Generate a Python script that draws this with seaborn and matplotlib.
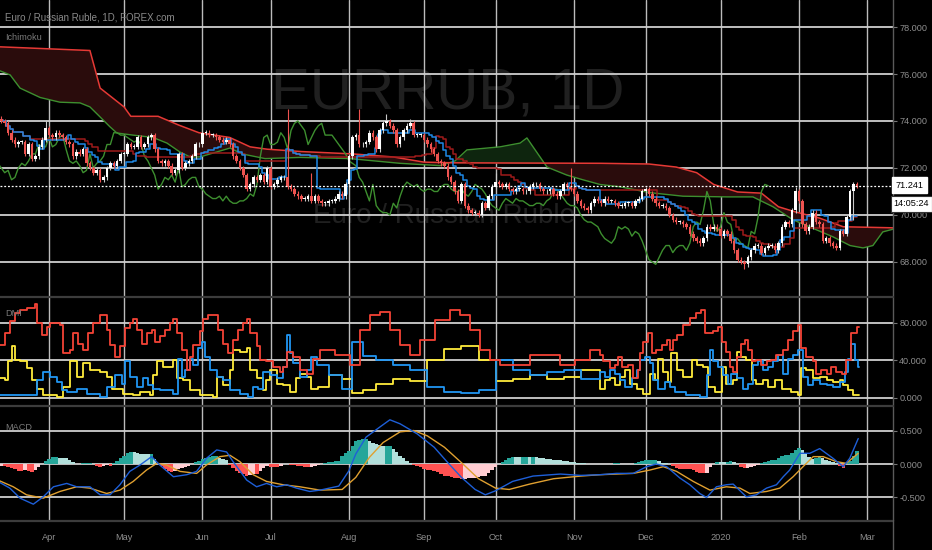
import numpy as np
import pandas as pd
import matplotlib
matplotlib.use("Agg")
import matplotlib.pyplot as plt
from matplotlib.lines import Line2D
import seaborn as sns

# ---------------- data ----------------
start_date = "2019-03-12"
close = [
    74.0, 73.9, 73.5, 73.2, 73.0, 73.1, 73.1, 72.6, 73.0, 72.4,
    72.5, 72.9, 73.2, 73.7, 73.4, 73.3, 73.5, 73.4, 73.3, 73.1,
    73.0, 72.5, 72.7, 72.6, 72.8, 72.2, 72.0, 71.8, 71.9, 71.5,
    71.6, 72.0, 72.2, 72.1, 72.3, 72.6, 72.6, 73.0, 72.9, 72.9,
    73.3, 72.9, 73.0, 73.3, 73.4, 72.8, 72.3, 72.2, 72.3, 72.1,
    71.8, 71.9, 72.6, 72.0, 72.2, 72.3, 72.5, 73.0, 73.0, 73.5,
    73.5, 73.4, 73.4, 73.3, 73.2, 73.1, 73.2, 73.0, 72.5, 72.3,
    72.0, 71.7, 71.1, 71.3, 71.6, 71.5, 71.7, 71.4, 72.0, 71.2,
    71.3, 71.5, 71.6, 71.6, 71.2, 71.1, 70.9, 70.8, 70.7, 70.7,
    70.8, 70.6, 70.8, 70.6, 70.5, 70.5, 70.6, 70.6, 70.7, 70.9,
    70.8, 71.3, 72.5, 73.3, 73.4, 73.0, 73.0, 73.1, 73.5, 73.3,
    72.8, 73.6, 73.9, 74.0, 73.8, 73.6, 73.0, 73.3, 73.6, 73.8,
    73.9, 73.4, 73.4, 73.4, 73.2, 73.0, 72.8, 72.6, 72.3, 72.2,
    72.1, 71.6, 71.4, 71.0, 70.6, 71.3, 70.4, 70.2, 70.1, 70.1,
    70.0, 70.5, 70.3, 70.8, 71.2, 71.4, 71.3, 71.2, 71.3, 71.1,
    71.0, 71.1, 71.1, 71.0, 71.0, 71.2, 71.3, 71.3, 71.1, 71.0,
    71.0, 71.1, 70.9, 70.8, 71.0, 71.3, 71.2, 71.1, 70.9, 70.6,
    70.4, 70.3, 70.2, 70.5, 70.7, 70.6, 70.5, 70.7, 70.6, 70.6,
    70.5, 70.4, 70.4, 70.5, 70.5, 70.4, 70.6, 70.7, 71.0, 71.1,
    70.9, 70.7, 70.5, 70.4, 70.4, 70.3, 70.0, 69.8, 69.7, 69.7,
    69.6, 69.5, 69.2, 69.0, 68.9, 68.8, 69.0, 69.5, 69.4, 69.5,
    69.4, 69.1, 69.3, 69.2, 68.9, 68.5, 68.1, 68.0, 67.9, 68.2,
    68.5, 68.7, 68.7, 68.4, 68.6, 68.7, 68.7, 68.5, 68.8, 69.5,
    69.7, 69.6, 70.2, 71.0, 70.6, 69.6, 69.3, 69.5, 70.1, 69.7,
    69.6, 68.9, 69.0, 68.8, 68.7, 68.6, 69.3, 69.2, 69.9, 71.0,
    71.3, 71.241,
]
first_open = 74.1
wick = 0.1
high_spikes = {13: 74.05, 84: 74.5, 91: 71.8, 105: 74.5, 113: 74.3, 120: 74.1,
               145: 71.8, 167: 72.0, 233: 71.2}
low_spikes = {218: 67.7, 250: 69.8}
last_price = 71.241

# Ichimoku leading spans (bar index, value)
spanA_x = [-1, 2.6, 5.5, 11.4, 17.2, 23.1, 26, 29, 31.9, 33.9, 38.6, 44.5, 48.6, 52.4, 55.4, 58.3,
           67.1, 70.6, 77.4, 87.6, 102.3, 116.9, 128.7, 133.1, 136.6, 146.3, 152.2, 154.2, 156,
           160.1, 165.9, 170.6, 175.6, 181.5, 190.3, 200, 212.9, 220.5, 226.4, 232.2, 239.3, 244,
           249, 252.8, 255.7, 258.6, 263]
spanA_v = [76.17, 75.96, 75.4, 75.0, 74.8, 74.77, 74.6, 74.17, 73.75, 73.49, 73.4, 73.3, 73.06,
           72.68, 72.47, 72.47, 72.85, 72.6, 72.4, 72.45, 72.4, 72.2, 72.1, 72.3, 72.77, 72.9,
           73.06, 73.28, 72.9, 72.04, 71.7, 71.5, 71.3, 71.2, 70.95, 70.8, 70.77, 70.77, 70.35,
           69.8, 69.36, 69.07, 68.7, 68.6, 68.7, 69.28, 69.45]
spanB_x = [-1, 26, 29, 36, 38, 46, 52, 58, 67, 73, 78, 88, 103, 115, 124, 133, 176, 190, 198,
           204, 209, 216, 223, 228, 233, 240, 247, 263]
spanB_v = [77.16, 77.0, 75.4, 74.6, 74.2, 74.2, 73.83, 73.5, 73.3, 72.9, 72.8, 72.7, 72.6, 72.47,
           72.25, 72.22, 72.2, 72.17, 72.04, 71.8, 71.3, 70.98, 70.93, 70.35, 70.13, 69.87, 69.5,
           69.45]

# DMI (bar index where level starts, value)
adx_x = [-1, 1.1, 2.5, 4.0, 5.5, 7.4, 9.9, 10.4, 11.8, 13.3, 14.3, 17.2, 18.2, 20.1, 21.1, 22.6,
         24.1, 25.5, 27.0, 29.0, 30.9, 31.9, 33.3, 34.8, 36.3, 37.7, 38.7, 39.7, 41.2, 42.6, 44.1,
         45.1, 46.5, 48.0, 49.5, 50.5, 51.4, 52.9, 54.4, 55.3, 56.3, 58.3, 59.2, 60.7, 63.2, 63.6,
         65.1, 66.6, 68.0, 69.5, 71.0, 72.0, 73.0, 74.9, 75.9, 77.8, 79.8, 81.7, 82.7, 83.7, 85.6,
         87.6, 89.6, 91.5, 93.5, 97.9, 102.3, 105.2, 108.2, 111.1, 114.0, 117.0, 119.9, 122.8,
         127.2, 131.6, 134.6, 137.5, 140.4, 143.4, 146.3, 150.7, 155.1, 159.5, 163.9, 168.3,
         172.7, 175.6, 176.6, 178.5, 180, 181, 182, 183.9, 185.4, 186.8, 187.3, 188.3, 189.8,
         190.8, 192.2, 193.7, 195.2, 196.1, 197.1, 198.1, 200.0, 202.0, 203.9, 205.4, 206.4,
         208.8, 210.3, 211.3, 212.7, 213.7, 214.7, 215.7, 217.1, 218.1, 219.1, 220.1, 221.5,
         223.0, 224.5, 225.9, 227.4, 229.4, 230.8, 232.3, 233.8, 234.7, 236.2, 238.2, 239.1,
         240.6, 242.1, 243.5, 245.0, 246.5, 247.9, 249.4, 250.9]
adx_v = [56.7, 69, 82, 91, 94, 96, 100, 80, 67, 76, 80, 78, 48, 51, 69, 58, 51, 69, 80, 89,
         73, 57, 44, 55, 75, 80, 84, 73, 58, 69, 73, 60, 66, 73, 80, 84, 69, 51, 30, 44,
         57, 71, 84, 89, 89, 73, 58, 48, 62, 73, 80, 84, 69, 55, 40.5, 39, 33, 28, 33, 49.5,
         44, 30, 26, 42, 51, 46, 35, 72, 88, 92, 72, 56, 46, 62, 83, 94, 88, 72, 51, 40, 35,
         35, 46, 46, 35, 40, 51, 46, 39, 31.6, 35, 44, 33, 35, 21, 30, 48, 60, 69, 48, 51, 57,
         62, 51, 62, 67, 78, 85, 91, 94, 69, 71, 76, 60, 49.5, 33, 28, 44, 58, 62, 51, 39, 40.5,
         35, 39, 40.5, 46, 51, 62, 71, 78, 53, 44, 39, 26, 30, 26, 33, 28, 26, 40.5, 69, 76]
pdi_x = [-1, 9.4, 10.4, 12.3, 14.3, 16.2, 17.7, 19.2, 22.1, 25.0, 29.0, 30.9, 33.3, 35.3, 36.3,
         37.7, 39.7, 41.7, 43.1, 44.6, 46.5, 50.5, 51.9, 52.9, 53.9, 55.3, 56.3, 57.8, 58.8, 59.7,
         61.2, 63.2, 65.1, 67.1, 70.0, 72.4, 73.9, 75.4, 76.8, 78.8, 80.8, 82.7, 83.7, 84.7, 85.6,
         87.6, 89.6, 91.0, 92.5, 96, 100, 103, 106, 110, 115, 120, 125, 130, 135, 140, 145, 150,
         155, 160, 165, 170, 175.6, 177.1, 178.5, 180, 181.5, 182.9, 184.9, 186.4, 187.3, 188.8,
         190.3, 191.2, 192.7, 194.7, 196.1, 197.6, 201.0, 204.9, 206.9, 207.9, 208.8, 210.3,
         211.8, 213.2, 214.2, 215.7, 217.6, 219.1, 220.6, 222, 223.5, 225, 226.4, 227.9, 229.4,
         230.8, 232.3, 233.8, 235.2, 236.7, 238.2, 240.1, 242.1, 244, 246, 247.4, 248.4, 249.4,
         250.4, 251.4]
pdi_v = [3, 3, 19, 28, 22.6, 17, 8, 6.5, 10, 4.7, 1, 12, 24, 15, 39, 22.6, 12, 21, 13.6, 10,
         8, 4.7, 42, 22.6, 30, 42, 35, 53, 60, 44, 30, 22.6, 19, 8, 4.7, 1, 12, 10, 28, 24,
         21, 33, 67, 48, 37, 22.6, 30, 44, 35, 25, 10, 60, 45, 40, 35, 30, 12, 6, 5, 8, 40, 30,
         25, 28, 30, 20, 28, 22.6, 30, 26, 19, 12, 21, 30, 40.5, 44, 37, 19, 10, 17, 12, 6.5,
         3, 1, 24, 51, 39, 33, 24, 15, 26, 21, 10, 15, 35, 39, 30, 33, 39, 46, 26, 42, 46, 51,
         22.6, 13.6, 19, 15, 13.6, 12, 17, 28, 42, 58, 40.5, 33]
mdi_x = [-1, 1.1, 2.1, 3.0, 4.0, 5.5, 7.4, 8.9, 10.4, 12.3, 16.2, 18.2, 20.1, 22.1, 24.1, 26.0,
         29.0, 30.9, 32.4, 35.8, 38.7, 40.7, 43.6, 44.6, 45.6, 47.5, 50.5, 51.4, 53.4, 55.3, 58.3,
         62.2, 63.2, 65.1, 67.1, 68.0, 70.0, 72.0, 73.0, 74.9, 76.8, 77.8, 78.8, 80.8, 82.7, 84.7,
         86.6, 87.6, 89.6, 91.0, 93.0, 96, 100, 103, 106, 110, 115, 120, 125, 130, 135, 140, 145,
         150, 155, 160, 165, 170, 175.6, 177.1, 178.5, 180, 181.5, 182.9, 184.4, 186.4, 188.3,
         190.3, 191.7, 192.7, 194.2, 195.6, 196.6, 198.1, 200, 202.5, 204, 205.9, 207.4, 209.3,
         211.3, 212.7, 214.7, 215.7, 217.1, 218.6, 220.1, 221.5, 223.5, 225, 226.9, 228.9, 231.8,
         233.8, 234.7, 236.2, 238.2, 240.1, 242.1, 244, 246, 247, 248.4, 249.9, 251.4]
mdi_v = [21, 19, 39, 55, 40.5, 39, 31.6, 19, 10, 3, 1, 12, 39, 22.6, 37, 30, 28, 22.6, 10, 4.7,
         3, 6.5, 3, 24, 39, 33, 40.5, 21, 19, 8, 3, 1, 22.6, 13.6, 30, 51, 49.5, 53, 30, 21,
         8, 19, 30, 15, 13.6, 6.5, 21, 26, 22.6, 10, 12, 25, 20, 5, 8, 15, 20, 18, 40, 52, 55,
         40, 18, 20, 25, 20, 22, 30, 10, 19, 21, 13.6, 22.6, 30, 15, 10, 4.7, 26, 19, 42, 28,
         17, 48, 30, 22.6, 40.5, 35, 33, 12, 6.5, 33, 15, 19, 49.5, 44, 40.5, 19, 15, 19, 12,
         19, 10, 6.5, 3, 31.6, 30, 21, 22.6, 19, 17, 19, 13.6, 8, 3, 3]

# MACD (bar index, value)
macd_x = [-1, 2.5, 5.5, 9.4, 12.3, 15.3, 19.2, 22.1, 26.0, 29.0, 31.9, 34.8, 37.7, 40.7, 44.1,
          46.5, 50.5, 54.4, 57.3, 60.2, 63.2, 66.1, 68.0, 72.0, 74.9, 77.8, 80.8, 83.7, 86.6,
          90.5, 93.5, 99, 102, 104, 107, 111, 114, 117, 122, 127, 131, 135, 139, 142, 145, 150,
          156, 164, 170, 175.6, 180.5, 185.4, 189.3, 192.2, 195.2, 199.1, 202, 204.9, 206.9,
          209.8, 212.7, 214.7, 218.6, 221.5, 224.5, 227.4, 229.4, 231.3, 234.3, 237.2, 240.1,
          244.0, 247.0, 248.9, 251.4]
macd_v = [-0.26, -0.36, -0.51, -0.60, -0.49, -0.34, -0.29, -0.34, -0.34, -0.46, -0.46, -0.31,
          -0.11, -0.015, 0.11, -0.015, -0.19, -0.16, -0.11, 0.085, 0.21, 0.18, 0.035, -0.24,
          -0.34, -0.29, -0.34, -0.31, -0.36, -0.41, -0.39, -0.33, -0.10, 0.15, 0.40, 0.55, 0.66,
          0.60, 0.45, 0.25, 0.02, -0.20, -0.38, -0.46, -0.40, -0.26, -0.18, -0.15, -0.17, -0.16,
          -0.14, -0.14, -0.04, 0.0, -0.04, -0.21, -0.31, -0.44, -0.50, -0.34, -0.31, -0.30,
          -0.49, -0.46, -0.36, -0.31, -0.19, -0.09, 0.16, 0.16, 0.23, 0.085, -0.04, 0.085, 0.38]
signal_x = [-1, 3.5, 7.4, 12.3, 17.2, 22.1, 26.0, 30.9, 34.8, 38.7, 42.6, 45.6, 48.5, 52.4,
            57.3, 60.2, 64.1, 67.1, 70.0, 73.9, 77.8, 82.7, 87.6, 93.5, 100, 104, 108, 112, 117,
            121, 125, 130, 135, 140, 145, 149, 155, 162, 170, 175.6, 185.4, 190.3, 194.2, 198.1,
            203, 207.9, 212.7, 216.7, 219.6, 224.5, 228.4, 232.3, 235.2, 238.2, 241.1, 245,
            247.9, 251.4]
signal_v = [-0.24, -0.34, -0.46, -0.51, -0.41, -0.34, -0.36, -0.44, -0.39, -0.26, -0.09, 0.01,
            -0.015, -0.11, -0.14, -0.015, 0.11, 0.13, 0.035, -0.16, -0.26, -0.31, -0.34, -0.39,
            -0.38, -0.2, 0.1, 0.32, 0.48, 0.50, 0.42, 0.25, 0.02, -0.22, -0.36, -0.38, -0.30,
            -0.22, -0.18, -0.16, -0.14, -0.09, -0.04, -0.11, -0.26, -0.39, -0.34, -0.36, -0.44,
            -0.41, -0.36, -0.19, -0.04, 0.11, 0.11, 0.035, 0.01, 0.16]

price_ticks = [68, 70, 72, 74, 76, 78]
dmi_ticks = [0, 40, 80]
macd_ticks = [-0.5, 0.0, 0.5]
title_text = "Euro / Russian Ruble, 1D, FOREX.com"
watermark_big = "EURRUB, 1D"
watermark_small = "Euro / Russian Ruble"
countdown = "14:05:24"

# ---------------- derived series ----------------
n = len(close)
idx = np.arange(n)
c = np.array(close)
o = np.concatenate([[first_open], c[:-1]])
hi = np.maximum(o, c) + wick
lo = np.minimum(o, c) - wick
for k, v in high_spikes.items():
    hi[k] = v
for k, v in low_spikes.items():
    lo[k] = v
dates = pd.bdate_range(start_date, periods=n + 30)

ohlc = pd.DataFrame({"bar": idx, "open": o, "high": hi, "low": lo, "close": c})
tenkan = (ohlc["high"].rolling(9, min_periods=1).max() + ohlc["low"].rolling(9, min_periods=1).min()) / 2
kijun = (ohlc["high"].rolling(26, min_periods=1).max() + ohlc["low"].rolling(26, min_periods=1).min()) / 2
ich = pd.DataFrame({"bar": idx, "tenkan": tenkan, "kijun": kijun})
chikou = pd.DataFrame({"bar": idx - 26, "close": c})

# ---------------- style ----------------
sns.set_theme(style="dark", rc={"axes.facecolor": "black", "figure.facecolor": "black"})
plt.rcParams["font.family"] = ["Liberation Sans", "DejaVu Sans"]

W, H = 932, 550
PLOT_R = 893
XMIN, XMAX = -0.38, 261.6
TXT = "#8e8e8e"
GRID = "#cfcfcf"
FS = 6.6

fig = plt.figure(figsize=(W / 100, H / 100), dpi=100, facecolor="black")


def rect(top, bottom):
    return [0, 1 - bottom / H, PLOT_R / W, (bottom - top) / H]


ax1 = fig.add_axes(rect(0, 296))
ax2 = fig.add_axes(rect(297, 405))
ax3 = fig.add_axes(rect(406, 520))

# month ticks
month_pos, month_lab = [], []
for i in range(1, len(dates)):
    if dates[i].month != dates[i - 1].month:
        month_pos.append(i)
        month_lab.append(str(dates[i].year) if dates[i].month == 1 else dates[i].strftime("%b"))

for ax, ylim, ticks, fmt in [
    (ax1, (66.553, 79.149), price_ticks, "{:.3f}"),
    (ax2, (-7.47, 107.7), dmi_ticks, "{:.3f}"),
    (ax3, (-0.836, 0.866), macd_ticks, "{:.3f}"),
]:
    ax.set_facecolor("black")
    ax.set_xlim(XMIN, XMAX)
    ax.set_ylim(*ylim)
    for s in ["top", "left", "bottom"]:
        ax.spines[s].set_visible(False)
    ax.spines["right"].set_color("#5a5a5a")
    ax.spines["right"].set_linewidth(1.0)
    ax.yaxis.tick_right()
    ax.set_yticks(ticks)
    ax.set_yticklabels([fmt.format(t) for t in ticks])
    ax.tick_params(axis="y", colors="#777777", labelsize=FS, length=3, width=0.8, pad=1.5,
                   labelcolor=TXT)
    ax.set_xticks(month_pos)
    ax.tick_params(axis="x", length=0, labelsize=FS, labelcolor=TXT, pad=9)
    ax.grid(True, axis="y", color=GRID, lw=1.3)
    ax.grid(True, axis="x", color="#bcbcbc", lw=1.0)
    ax.set_axisbelow(True)

ax1.set_xticklabels([])
ax2.set_xticklabels([])
ax3.set_xticklabels(month_lab)

# ---------------- price pane ----------------
ax1.text(448 / W, 1 - 93 / H, watermark_big, transform=fig.transFigure, ha="center",
         va="center", fontsize=42, color="#202020", zorder=0)
ax1.text(444 / W, 1 - 216 / H, watermark_small, transform=fig.transFigure, ha="center",
         va="center", fontsize=20, color="#202020", zorder=0)

g = np.linspace(-1, 263, 2000)
a_g = np.interp(g, spanA_x, spanA_v)
b_g = np.interp(g, spanB_x, spanB_v)
ax1.fill_between(g, a_g, b_g, where=b_g >= a_g, interpolate=True, color="#2a0c0c", lw=0, zorder=1)
ax1.fill_between(g, a_g, b_g, where=b_g < a_g, interpolate=True, color="#0e250e", lw=0, zorder=1)

spans = pd.DataFrame({"bar": spanA_x, "v": spanA_v})
spanb = pd.DataFrame({"bar": spanB_x, "v": spanB_v})
sns.lineplot(data=spans, x="bar", y="v", ax=ax1, color="#3d8f2f", lw=1.0, legend=False, zorder=2)
sns.lineplot(data=spanb, x="bar", y="v", ax=ax1, color="#e53935", lw=1.1, legend=False, zorder=2)
sns.lineplot(data=chikou, x="bar", y="close", ax=ax1, color="#3d8f2f", lw=1.0, legend=False, zorder=2)
sns.lineplot(data=ich, x="bar", y="kijun", ax=ax1, color="#9e1b1b", lw=1.1, legend=False,
             zorder=2, drawstyle="steps-mid")
sns.lineplot(data=ich, x="bar", y="tenkan", ax=ax1, color="#1e88e5", lw=1.1, legend=False,
             zorder=2, drawstyle="steps-mid")

up = c >= o
col = np.where(up, "#ffffff", "#ef5350")
wcol = np.where(up, "#c8c8c8", "#ef5350")
ax1.vlines(idx, lo, hi, colors=wcol, lw=0.8, zorder=3)
body = np.maximum(np.abs(c - o), 0.035)
ax1.bar(idx, body, bottom=np.minimum(o, c), width=0.74, color=col, lw=0, zorder=4)

ax1.axhline(last_price, color="white", lw=0.9, ls=(0, (1.5, 1.5)), zorder=5)

# ---------------- DMI pane ----------------
for xs, vs, colr in [(mdi_x, mdi_v, "#ffeb3b"), (pdi_x, pdi_v, "#2196f3"), (adx_x, adx_v, "#f44336")]:
    d = pd.DataFrame({"bar": list(xs) + [251.5], "v": list(vs) + [vs[-1]]})
    sns.lineplot(data=d, x="bar", y="v", ax=ax2, color=colr, lw=1.3, legend=False,
                 drawstyle="steps-post", zorder=3)

# ---------------- MACD pane ----------------
m_i = np.interp(idx, macd_x, macd_v)
s_i = np.interp(idx, signal_x, signal_v)
hist = m_i - s_i
prev = np.concatenate([[hist[0]], hist[:-1]])
hcol = np.where(hist >= 0, np.where(hist >= prev, "#26a69a", "#b2dfdb"),
                np.where(hist < prev, "#ff5252", "#ffcdd2"))
ax3.bar(idx, hist, width=1.0, color=hcol, lw=0, zorder=2)
md = pd.DataFrame({"bar": macd_x, "v": macd_v})
sd = pd.DataFrame({"bar": signal_x, "v": signal_v})
sns.lineplot(data=sd, x="bar", y="v", ax=ax3, color="#e0a030", lw=1.0, legend=False, zorder=3)
sns.lineplot(data=md, x="bar", y="v", ax=ax3, color="#1e5fd8", lw=1.0, legend=False, zorder=4)

for ax, ylim in [(ax1, (66.553, 79.149)), (ax2, (-7.47, 107.7)), (ax3, (-0.836, 0.866))]:
    ax.set_xlim(XMIN, XMAX)
    ax.set_ylim(*ylim)
    ax.set_xlabel("")
    ax.set_ylabel("")

# ---------------- labels / separators ----------------
fig.text(5 / W, 1 - 18 / H, title_text, ha="left", va="center", fontsize=7.0, color="#8a8a8a")
fig.text(5 / W, 1 - 37 / H, "Ichimoku", ha="left", va="center", fontsize=6.6, color="#7a7a7a")
fig.text(5 / W, 1 - 313 / H, "DMI", ha="left", va="center", fontsize=6.6, color="#7a7a7a")
fig.text(5 / W, 1 - 427 / H, "MACD", ha="left", va="center", fontsize=6.6, color="#7a7a7a")

for yy in (296.5, 405.5, 520.5):
    fig.add_artist(Line2D([0, PLOT_R / W], [1 - yy / H] * 2, color="#3c3c3c", lw=1.6))
fig.add_artist(Line2D([PLOT_R / W] * 2, [0, 1 - 520 / H], color="#5a5a5a", lw=1.0))

fig.text(909.5 / W, 1 - 185 / H, f"{last_price:.3f}", ha="center", va="center", fontsize=FS,
         color="black", bbox=dict(boxstyle="square,pad=0.35", fc="white", ec="white"))
fig.text(911.5 / W, 1 - 204 / H, countdown, ha="center", va="center", fontsize=FS,
         color="black", bbox=dict(boxstyle="square,pad=0.35", fc="white", ec="#333333", lw=0.8))

fig.savefig("out.png", dpi=100, facecolor="black")
